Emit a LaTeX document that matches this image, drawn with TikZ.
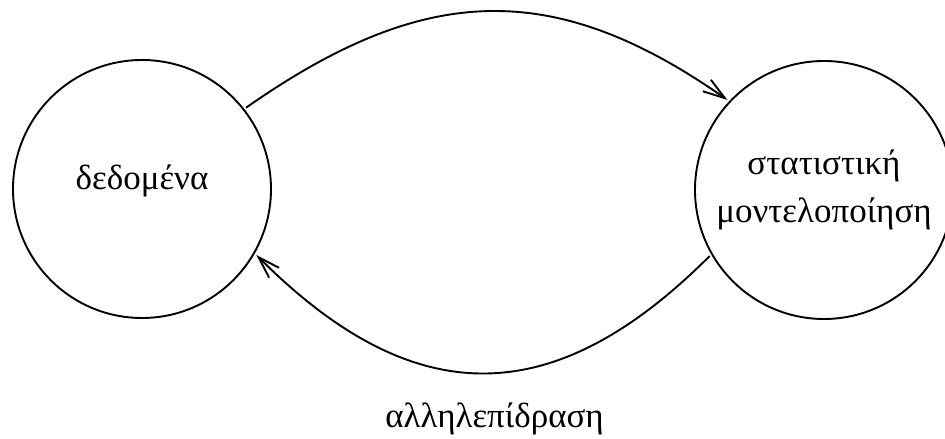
\documentclass[tikz,border=0pt]{standalone}
\usepackage{fontspec}
\setmainfont{Liberation Serif}
\usetikzlibrary{arrows.meta}
\begin{document}
\begin{tikzpicture}[x=1pt,y=1pt,
  state/.style={circle, draw, line width=1.9pt, minimum size=258pt, inner sep=0pt, outer sep=3pt,
    font=\fontsize{35}{47.6}\selectfont, align=center},
  link/.style={line width=1.9pt, -{Straight Barb[length=22pt,width=14pt]}},
  lbl/.style={font=\fontsize{35}{42}\selectfont, anchor=base, inner sep=0pt}]
\useasboundingbox (0,0) rectangle (945,439);
\node[state, text height=14pt, text depth=12pt] (l) at (142,250) {δεδομένα};
\node[state] (r) at (824,249) {στατιστική\\μοντελοποίηση};
\draw[link] (l.38) to[out=35,in=145,looseness=1.14] (r.137);
\draw[link] (r.210) to[out=225,in=-45,looseness=1.25] (l.-30);
\node[lbl] (lab) at (494.5,12) {αλληλεπίδραση};
\end{tikzpicture}
\end{document}
